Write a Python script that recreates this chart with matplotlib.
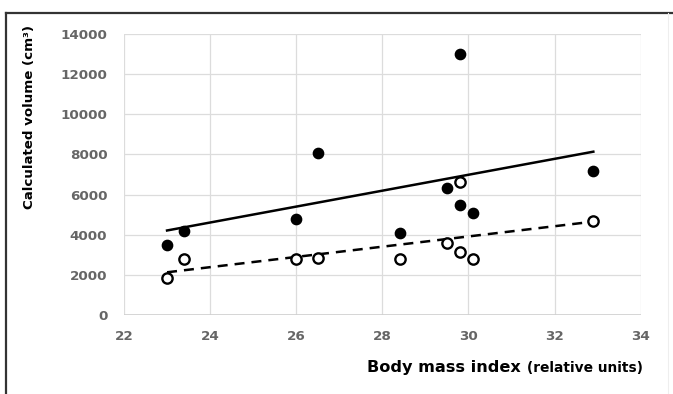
import matplotlib
matplotlib.use("Agg")
import matplotlib.pyplot as plt
import numpy as np
from matplotlib.lines import Line2D

# body mass index for each subject (same for both series)
bmi = [23.0, 23.4, 26.0, 26.5, 28.4, 29.5, 29.8, 29.8, 30.1, 32.9]
# filled circles
vol_filled = [3500, 4200, 4780, 8050, 4070, 6340, 13000, 5500, 5070, 7190]
# open circles
vol_open = [1860, 2790, 2775, 2855, 2790, 3600, 6610, 3155, 2775, 4670]

x_ticks = [22, 24, 26, 28, 30, 32, 34]
y_ticks = [0, 2000, 4000, 6000, 8000, 10000, 12000, 14000]

plt.rcParams['font.family'] = ['DejaVu Sans']

fig = plt.figure(figsize=(6.73, 3.94), dpi=100)
ax = fig.add_axes([124 / 673, 1 - 315 / 394, (640.7 - 124) / 673, (315 - 34) / 394])

ax.scatter(bmi, vol_filled, s=55, color='black', zorder=3, clip_on=False)
ax.scatter(bmi, vol_open, s=55, facecolor='white', edgecolor='black',
           linewidth=1.7, zorder=3, clip_on=False)

# linear trend lines
xs = np.array([min(bmi), max(bmi)])
k1, b1 = np.polyfit(bmi, vol_filled, 1)
k2, b2 = np.polyfit(bmi, vol_open, 1)
ax.plot(xs, k1 * xs + b1, color='black', lw=1.8, zorder=2)
ax.plot(xs, k2 * xs + b2, color='black', lw=1.8, ls=(0, (4, 2.8)), zorder=2)

ax.set_xlim(22, 34)
ax.set_ylim(0, 14000)
ax.set_xticks(x_ticks)
ax.set_yticks(y_ticks)
ax.grid(True, color='#dcdcdc', lw=0.9)
ax.set_axisbelow(True)
for s in ax.spines.values():
    s.set_visible(False)
ax.axhline(0, color='#cfcfcf', lw=1.2, zorder=1)
ax.tick_params(length=0, labelsize=9.7, labelcolor='#666666')
ax.tick_params(axis='y', pad=12)
ax.tick_params(axis='x', pad=11)
for lab in ax.get_xticklabels() + ax.get_yticklabels():
    lab.set_fontweight('bold')

fig.text(30 / 673, 1 - 117 / 394, 'Calculated volume (cm³)', rotation=90,
         ha='center', va='center', fontsize=9.6, fontweight='bold')

t1 = fig.text(367 / 673, 1 - 372 / 394, 'Body mass index', ha='left',
              va='baseline', fontsize=11.6, fontweight='bold')
ax.annotate('(relative units)', xy=(1, 0), xycoords=t1, xytext=(4.5, 0),
            textcoords='offset points', ha='left', va='bottom',
            fontsize=9.9, fontweight='bold')

# outer frame: dark top and left, faint right
fig.add_artist(Line2D([5.5 / 673, 1], [1 - 13 / 394] * 2, transform=fig.transFigure,
                      color='#333333', lw=1.6))
fig.add_artist(Line2D([5.5 / 673] * 2, [0, 1 - 13 / 394], transform=fig.transFigure,
                      color='#333333', lw=1.6))
fig.add_artist(Line2D([668 / 673] * 2, [0, 1 - 13 / 394], transform=fig.transFigure,
                      color='#eeeeee', lw=0.8))

fig.savefig('out.png', dpi=100)
